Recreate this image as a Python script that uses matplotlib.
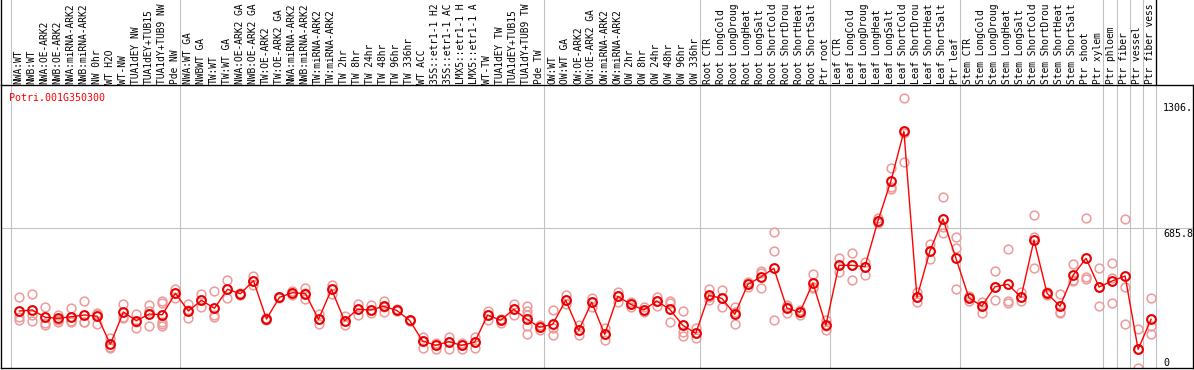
import matplotlib
matplotlib.use("Agg")
import matplotlib.pyplot as plt

# ---------------- data ----------------
gene_id = "Potri.001G350300"

categories = [
    "NWA:WT", "NWB:WT", "NWA:OE-ARK2", "NWB:OE-ARK2", "NWA:miRNA-ARK2", "NWB:miRNA-ARK2",
    "NW 0hr", "WT H2O", "WT-NW", "TUA1dEY NW", "TUA1dEY+TUB15 NW", "TUA1dY+TUB9 NW", "Pde NW",
    "NWA:WT GA", "NWBWT GA", "TW:WT", "TW:WT GA", "NWA:OE-ARK2 GA", "NWB:OE-ARK2 GA",
    "TW:OE-ARK2", "TW:OE-ARK2 GA", "NWA:miRNA-ARK2 GA", "NWB:miRNA-ARK2 GA", "TW:miRNA-ARK2",
    "TW:miRNA-ARK2 GA", "TW 2hr", "TW 8hr", "TW 24hr", "TW 48hr", "TW 96hr", "TW 336hr",
    "WT ACC", "35S::etr1-1 H2O", "35S::etr1-1 ACC", "LMX5::etr1-1 H2O", "LMX5::etr1-1 ACC",
    "WT-TW", "TUA1dEY TW", "TUA1dEY+TUB15 TW", "TUA1dY+TUB9 TW", "Pde TW",
    "OW:WT", "OW:WT GA", "OW:OE-ARK2", "OW:OE-ARK2 GA", "OW:miRNA-ARK2", "OW:miRNA-ARK2 GA",
    "OW 2hr", "OW 8hr", "OW 24hr", "OW 48hr", "OW 96hr", "OW 336hr",
    "Root CTR", "Root LongCold", "Root LongDrought", "Root LongHeat", "Root LongSalt",
    "Root ShortCold", "Root ShortDrought", "Root ShortHeat", "Root ShortSalt", "Ptr root",
    "Leaf CTR", "Leaf LongCold", "Leaf LongDrought", "Leaf LongHeat", "Leaf LongSalt",
    "Leaf ShortCold", "Leaf ShortDrought", "Leaf ShortHeat", "Leaf ShortSalt", "Ptr leaf",
    "Stem CTR", "Stem LongCold", "Stem LongDrought", "Stem LongHeat", "Stem LongSalt",
    "Stem ShortCold", "Stem ShortDrought", "Stem ShortHeat", "Stem ShortSalt", "Ptr shoot",
    "Ptr xylem", "Ptr phloem", "Ptr fiber", "Ptr vessel", "Ptr fiber vessel",
]

means = [
    279.3, 284.2, 248.4, 243.5, 251.4, 259.7, 253.3, 116.1, 274.4, 231.8, 264.6, 261.2, 366.0,
    279.3, 331.7, 292.5, 385.6, 364.1, 427.8, 240.1, 346.4, 369.0, 364.1, 238.6, 385.6, 231.8,
    287.6, 284.2, 302.3, 282.7, 233.7, 132.3, 111.2, 128.9, 111.2, 125.9, 259.7, 233.7, 287.6,
    240.1, 199.4,
    214.1, 331.7, 184.7, 321.9, 165.1, 351.3, 312.1, 284.2, 328.3, 287.6, 209.2, 170.0,
    356.2, 341.5, 263.1, 410.1, 445.9, 488.5, 294.0, 272.9, 416.5, 209.2,
    503.2, 503.2, 496.4, 720.3, 916.3, 1159.8, 346.4, 573.3, 730.1, 537.5,
    343.0, 303.8, 398.4, 410.1, 346.4, 627.2, 366.0, 302.3, 454.2, 537.5, 396.9,
    426.3, 450.8, 91.6, 238.6,
]

replicates = [
    [347.9, 248.3, 235.2], [362.6, 261.3, 228.7], [298.9, 222.1, 210.7], [259.7, 235.2, 225.4],
    [294.0, 230.3, 227.0], [326.7, 227.0, 223.8], [271.1, 263.0, 214.0], [147.0, 104.5, 96.4],
    [315.2, 251.5, 243.4], [266.2, 227.0, 197.6], [310.3, 277.7, 205.8],
    [329.9, 320.1, 225.4, 215.6, 207.4], [385.5, 365.9, 344.6],
    [312.0, 284.2, 243.4], [361.0, 333.2, 300.5], [375.7, 259.7, 248.3], [431.2, 385.5, 341.4],
    [369.1, 364.2, 359.3], [452.4, 424.7, 406.7], [243.4, 240.1, 235.2], [349.5, 346.3, 343.0],
    [378.9, 369.1, 359.3], [392.0, 365.9, 336.5], [264.6, 238.5, 215.6], [408.3, 385.5, 362.6],
    [254.8, 231.9, 209.1], [313.6, 287.5, 259.7], [310.3, 284.2, 267.9], [326.7, 300.5, 276.0],
    [287.5, 282.6, 277.7], [236.8, 233.6, 230.3], [150.3, 132.3, 99.6], [124.1, 111.1, 94.7],
    [150.3, 129.0, 93.1], [124.1, 111.1, 93.1], [153.5, 125.8, 98.0], [280.9, 259.7, 235.2],
    [238.5, 233.6, 222.1], [315.2, 287.5, 259.7], [305.4, 280.9, 259.7, 205.8, 166.6],
    [210.7, 199.3, 186.2],
    [282.6, 194.4, 163.3], [356.1, 331.6, 313.6], [212.3, 184.6, 161.7], [341.4, 321.8, 300.5],
    [194.4, 165.0, 137.2], [374.0, 351.2, 325.0], [325.0, 312.0, 300.5], [297.3, 284.2, 272.8],
    [349.5, 328.3, 303.8], [329.9, 316.9, 223.8], [277.7, 178.0, 158.4], [197.6, 169.9, 148.6],
    [387.1, 349.5, 333.2], [382.2, 344.6, 297.3], [300.5, 276.0, 214.0], [423.0, 410.0, 395.3],
    [476.9, 467.1, 390.4], [664.8, 571.7, 233.6], [310.3, 300.5, 267.9], [284.2, 272.8, 259.7],
    [460.6, 395.3, 390.4], [235.2, 205.8, 186.2],
    [537.4, 503.1, 472.0], [561.9, 503.1, 429.6], [521.0, 496.5, 454.1], [733.4, 720.3, 708.9],
    [978.4, 888.5, 878.7], [1321.0, 1149.9, 1009.4], [372.4, 346.3, 321.8], [607.6, 573.3, 534.1],
    [836.3, 689.3, 663.1], [640.3, 586.4, 385.5],
    [352.8, 343.0, 329.9], [323.4, 303.8, 267.9], [473.7, 395.3, 331.6], [581.5, 326.7, 316.9],
    [372.4, 346.3, 329.9], [748.1, 643.5, 490.0], [372.4, 365.9, 359.3], [362.6, 276.0, 271.1],
    [509.6, 431.2, 426.3], [733.4, 447.5, 436.1], [488.4, 398.5, 303.8],
    [512.9, 442.6, 316.9], [728.5, 395.3, 214.0], [189.5, 91.5, 0.0], [341.4, 205.8, 166.6],
]

group_bounds = [0, 13, 41, 53, 63, 73, 84, 85, 86, 87, 88]
ref_line = 685.8
y_tick_labels = ["1306.", "685.8", "0"]

# ---------------- figure ----------------
W, H = 1194, 370
fig = plt.figure(figsize=(W / 100, H / 100), dpi=100)
fig.patch.set_facecolor("white")

px_l, px_r = 1, 1193
plot_top, plot_bot = 85, 368
xlim = (-0.7456, 90.88)
ymax = (plot_bot - plot_top) * 4.9

ax = fig.add_axes([px_l / W, (H - plot_bot) / H, (px_r - px_l) / W, (plot_bot - plot_top) / H])
hd = fig.add_axes([px_l / W, (H - plot_top) / H, (px_r - px_l) / W, plot_top / H])

GRAY = "#c0c0c0"
LW = 0.75
mono = "DejaVu Sans Mono"
MAXCH = 14  # header column only has room for 14 characters

for a in (ax, hd):
    a.set_xlim(*xlim)
    a.set_xticks([])
    a.set_yticks([])
    a.patch.set_alpha(0)

ax.set_ylim(0, ymax)
hd.set_ylim(0, 1)

for s in ax.spines.values():
    s.set_color("black")
    s.set_linewidth(LW * 1.3)
hd.spines["top"].set_visible(False)
hd.spines["right"].set_visible(False)
hd.spines["bottom"].set_visible(False)
hd.spines["left"].set_color("black")
hd.spines["left"].set_linewidth(LW * 1.3)

# group separators
for b in group_bounds:
    ax.axvline(b, color=GRAY, lw=LW, zorder=1)
    if b == group_bounds[-1]:
        hd.axvline(b, color="black", lw=LW * 1.3, zorder=1)
    else:
        hd.axvline(b, color=GRAY, lw=LW, zorder=1)
ax.axhline(ref_line, color=GRAY, lw=LW, zorder=1)

xs = [i + 0.66 for i in range(len(categories))]

# replicate points
rx, ry = [], []
for x, reps in zip(xs, replicates):
    for v in reps:
        rx.append(x)
        ry.append(v)
ax.plot(rx, ry, linestyle="none", marker="o", ms=6.3, mfc="none", mec="#ee9a9a",
        mew=1.1, zorder=2, clip_on=True)

# mean line + points
ax.plot(xs, means, color="#ff0000", lw=1.0, zorder=3)
ax.plot(xs, means, linestyle="none", marker="o", ms=6.3, mfc="none", mec="#e80000",
        mew=1.5, zorder=4)

# header labels (truncated to the column height, as in the original)
for x, lab in zip(xs, categories):
    hd.text(x - 0.05, (plot_top - 84) / plot_top, lab[:MAXCH].rstrip(), rotation=90,
            ha="center", va="bottom", fontsize=6.9, family=mono, color="black")

# gene id
fig.text(9 / W, 1 - 101 / H, gene_id, ha="left", va="baseline", fontsize=7.2,
         family=mono, color="#ff0000")

# right-hand value labels
baselines = [111, 237, 366]
for txt, bl in zip(y_tick_labels, baselines):
    fig.text(1163 / W, 1 - bl / H, txt, ha="left", va="baseline",
             fontsize=7.2, family=mono, color="black")

fig.savefig("out.png", dpi=100, facecolor="white")
